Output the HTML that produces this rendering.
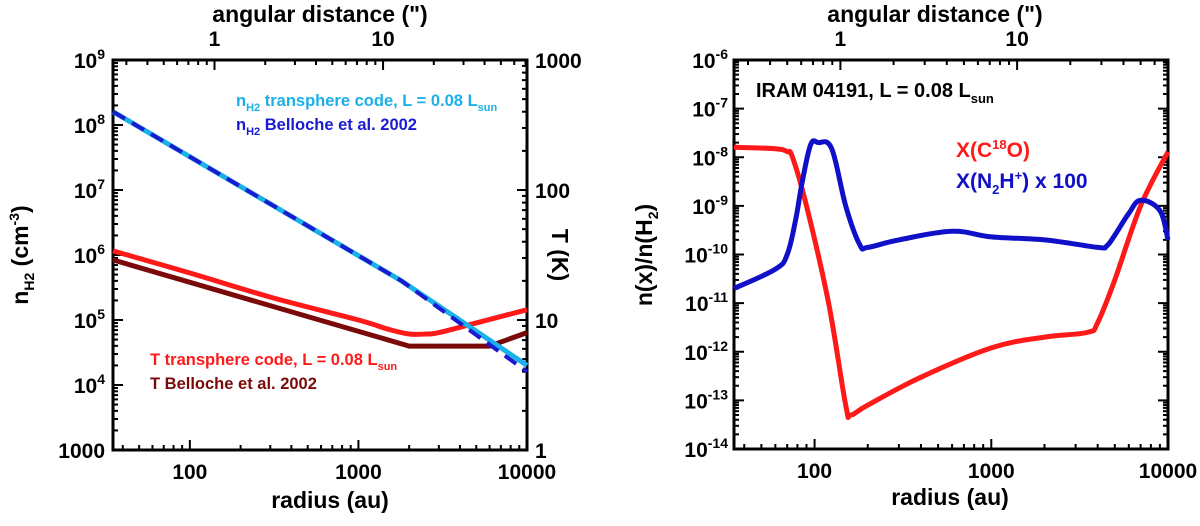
<!DOCTYPE html>
<html><head><meta charset="utf-8"><style>
body{margin:0;background:#fff;}
svg text{font-family:"Liberation Sans",sans-serif;font-weight:bold;}
</style></head><body>
<svg id="c" width="1200" height="521" viewBox="0 0 1200 521" xmlns="http://www.w3.org/2000/svg"></svg>
<script>
const radiusL=[35,1800,10000];
const nH2Trans=[1.6e8,4e5,2e4];
const radiusB=[35,1800,10000];
const nH2Bel=[1.6e8,4e5,1.6e4];
const radiusT=[35,100,300,1000,1500,2000,2500,3000,5000,10000];
const tempTrans=[34,23,15,10,8.5,7.8,7.8,8,9.5,12];
const radiusTB=[35,2000,6000,10000];
const tempBel=[29,6.3,6.3,8];
const radiusC=[35,60,70,75,90,120,150,160,200,400,1000,2000,3500,4000,5000,7000,10000];
const xC18O=[1.6e-8,1.5e-8,1.3e-8,1e-8,1e-9,1e-11,8e-14,5e-14,8e-14,3e-13,1.2e-12,2e-12,2.5e-12,4e-12,3e-11,1e-9,1.3e-8];
const radiusN=[35,60,70,78,85,95,105,125,150,180,200,300,600,1000,2000,4000,4500,5000,6000,7000,9000,10000];
const xN2H=[2e-11,5e-11,1e-10,5e-10,3e-9,1.8e-8,2e-8,1.5e-8,1e-9,1.6e-10,1.4e-10,2e-10,3e-10,2.3e-10,2e-10,1.4e-10,1.5e-10,2.5e-10,7e-10,1.3e-9,8e-10,2e-10];

const S=document.getElementById('c');const NS='http://www.w3.org/2000/svg';
function mk(t,a,txt){const e=document.createElementNS(NS,t);for(const k in a)e.setAttribute(k,a[k]);if(txt!==undefined)e.textContent=txt;S.appendChild(e);return e;}
function logAxis(lo,hi,p0,p1){return v=>p0+(Math.log10(v)-Math.log10(lo))/(Math.log10(hi)-Math.log10(lo))*(p1-p0);}
function line(xs,ys,fx,fy,col,w,dash,name,smooth){const P=xs.map((x,i)=>[fx(x),fy(ys[i])]);let d='M'+P[0][0].toFixed(1)+','+P[0][1].toFixed(1);
 for(let i=0;i<P.length-1;i++){if(!smooth){d+='L'+P[i+1][0].toFixed(1)+','+P[i+1][1].toFixed(1);continue;}
  const p0=P[Math.max(i-1,0)],p1=P[i],p2=P[i+1],p3=P[Math.min(i+2,P.length-1)];const k=0.18;
  const c1=[p1[0]+(p2[0]-p0[0])*k,p1[1]+(p2[1]-p0[1])*k],c2=[p2[0]-(p3[0]-p1[0])*k,p2[1]-(p3[1]-p1[1])*k];
  d+='C'+c1[0].toFixed(1)+','+c1[1].toFixed(1)+' '+c2[0].toFixed(1)+','+c2[1].toFixed(1)+' '+p2[0].toFixed(1)+','+p2[1].toFixed(1);}
 const e=mk('path',{d:d,fill:'none',stroke:col,'stroke-width':w,'stroke-linejoin':'round','stroke-dasharray':dash||'none'});
 
 }
function supText(x,y,base,sup,anchor,name,size){const t=mk('text',{x:x,y:y,'font-size':size||21,'text-anchor':anchor||'end'});
const a=document.createElementNS(NS,'tspan');a.textContent=base;t.appendChild(a);
if(sup!==null){const b=document.createElementNS(NS,'tspan');b.setAttribute('dy','-9');b.setAttribute('font-size','14');b.textContent=sup;t.appendChild(b);}return t;}
function frame(x0,x1,y0,y1,fx,name){
 for(let d=10;d<=10000;d*=10)for(let m=1;m<10;m++){const v=d*m;if(v<35||v>10000)continue;const X=fx(v);const L=m===1?10:5;
  mk('line',{x1:X,y1:y1,x2:X,y2:y1-L,stroke:'#000','stroke-width':2});}
 for(let d=0.1;d<=100;d*=10)for(let m=1;m<10;m++){const v=d*m*140;if(v<35||v>10000)continue;const X=fx(v);const L=m===1?10:5;
  mk('line',{x1:X,y1:y0,x2:X,y2:y0+L,stroke:'#000','stroke-width':2});}
 const r=mk('rect',{x:x0,y:y0,width:x1-x0,height:y1-y0,fill:'none',stroke:'#000','stroke-width':3});
 
}
// LEFT PANEL
const lx0=113,lx1=527,ly0=60,ly1=450;
const fxL=logAxis(35,10000,lx0,lx1);const fyL=logAxis(1e9,1e3,ly0,ly1);const fyT=logAxis(1000,1,ly0,ly1);
frame(lx0,lx1,ly0,ly1,fxL,'left-plot-frame');
for(let e=3;e<=9;e++)for(let m=1;m<10;m++){const v=Math.pow(10,e)*m;if(v>1e9)continue;const Y=fyL(v);const L=m===1?10:5;
 mk('line',{x1:lx0,y1:Y,x2:lx0+L,y2:Y,stroke:'#000','stroke-width':2});}
for(let e=0;e<=3;e++)for(let m=1;m<10;m++){const v=Math.pow(10,e)*m;if(v>1000)continue;const Y=fyT(v);const L=m===1?10:5;
 mk('line',{x1:lx1,y1:Y,x2:lx1-L,y2:Y,stroke:'#000','stroke-width':2});}
const yTicksL=['4','5','6','7','8','9'];
yTicksL.forEach(s=>supText(lx0-8,fyL(Math.pow(10,+s))+8,'10',s,'end','y-tick-left-1e'+s));
mk('text',{x:lx0-8,y:ly1+8,'font-size':21,'text-anchor':'end',},'1000');
const tTicks=[1,10,100,1000];
tTicks.forEach(v=>mk('text',{x:lx1+8,y:fyT(v)+8,'font-size':21,},String(v)));
const xTicks=[100,1000,10000];
xTicks.forEach(v=>mk('text',{x:fxL(v),y:ly1+29,'font-size':21,'text-anchor':'middle',},String(v)));
const aTicks=[1,10];
aTicks.forEach(v=>mk('text',{x:fxL(v*140),y:ly0-14,'font-size':21,'text-anchor':'middle',},String(v)));
mk('text',{x:320,y:22,'font-size':23,'text-anchor':'middle',},'angular distance (")');
mk('text',{x:330,y:508,'font-size':23,'text-anchor':'middle',},'radius (au)');
{const t=mk('text',{transform:'translate(28,255) rotate(-90)','font-size':23,'text-anchor':'middle',});
 t.innerHTML='n<tspan dy="6" font-size="14">H2</tspan><tspan dy="-6"> (cm</tspan><tspan dy="-9" font-size="14">-3</tspan><tspan dy="9">)</tspan>';}
mk('text',{transform:'translate(552,255) rotate(90)','font-size':23,'text-anchor':'middle',},'T (K)');
line(radiusT,tempTrans,fxL,fyT,'#ff1a1a',5,null,'temp-transphere-line',true);
line(radiusTB,tempBel,fxL,fyT,'#7a0a0a',5,null,'temp-belloche-line',false);
line(radiusL,nH2Trans,fxL,fyL,'#1ab0e8',5,null,'nh2-transphere-line',false);
line(radiusB,nH2Bel,fxL,fyL,'#1a1ad0',4,'14,8','nh2-belloche-line',false);
{const t=mk('text',{x:236,y:106,'font-size':16.5,fill:'#1ab0e8',});t.innerHTML='n<tspan dy="5" font-size="11">H2</tspan><tspan dy="-5"> transphere code, L = 0.08 L</tspan><tspan dy="5" font-size="11">sun</tspan>';}
{const t=mk('text',{x:236,y:130,'font-size':16.5,fill:'#1a1ad0',});t.innerHTML='n<tspan dy="5" font-size="11">H2</tspan><tspan dy="-5"> Belloche et al. 2002</tspan>';}
{const t=mk('text',{x:150,y:365,'font-size':16.5,fill:'#ff1a1a',});t.innerHTML='T transphere code, L = 0.08 L<tspan dy="5" font-size="11">sun</tspan>';}
mk('text',{x:150,y:389,'font-size':16.5,fill:'#7a0a0a',},'T Belloche et al. 2002');

// RIGHT PANEL
const rx0=734,rx1=1168,ry0=60,ry1=449;
const fxR=logAxis(35,10000,rx0,rx1);const fyR=logAxis(1e-6,1e-14,ry0,ry1);
frame(rx0,rx1,ry0,ry1,fxR,'right-plot-frame');
for(let e=-14;e<=-6;e++){const Y=fyR(Math.pow(10,e));
 mk('line',{x1:rx0,y1:Y,x2:rx0+10,y2:Y,stroke:'#000','stroke-width':2});mk('line',{x1:rx1,y1:Y,x2:rx1-10,y2:Y,stroke:'#000','stroke-width':2});
 for(let m=2;m<10;m++){if(e===-6)break;const y2=fyR(Math.pow(10,e)*m);
 mk('line',{x1:rx0,y1:y2,x2:rx0+5,y2:y2,stroke:'#000','stroke-width':2});mk('line',{x1:rx1,y1:y2,x2:rx1-5,y2:y2,stroke:'#000','stroke-width':2});}}
const yTicksR=['-14','-13','-12','-11','-10','-9','-8','-7','-6'];
yTicksR.forEach(s=>supText(rx0-6,fyR(Math.pow(10,+s))+8,'10',s,'end','y-tick-right-1e'+s));
xTicks.forEach(v=>mk('text',{x:fxR(v),y:ry1+29,'font-size':21,'text-anchor':'middle',},String(v)));
aTicks.forEach(v=>mk('text',{x:fxR(v*140),y:ry0-14,'font-size':21,'text-anchor':'middle',},String(v)));
mk('text',{x:935,y:22,'font-size':23,'text-anchor':'middle',},'angular distance (")');
mk('text',{x:950,y:505,'font-size':23,'text-anchor':'middle',},'radius (au)');
{const t=mk('text',{transform:'translate(652,255) rotate(-90)','font-size':23,'text-anchor':'middle',});
 t.innerHTML='n(x)/n(H<tspan dy="6" font-size="14">2</tspan><tspan dy="-6">)</tspan>';}
line(radiusC,xC18O,fxR,fyR,'#ff1a1a',5,null,'c18o-line',true);
line(radiusN,xN2H,fxR,fyR,'#1010c8',5,null,'n2h-line',true);
{const t=mk('text',{x:756,y:97,'font-size':20,fill:'#000',});t.innerHTML='IRAM 04191, L = 0.08 L<tspan dy="6" font-size="13">sun</tspan>';}
{const t=mk('text',{x:956,y:157,'font-size':21,fill:'#ff1a1a',});t.innerHTML='X(C<tspan dy="-8" font-size="13">18</tspan><tspan dy="8">O)</tspan>';}
{const t=mk('text',{x:956,y:188,'font-size':21,fill:'#1010c8',});t.innerHTML='X(N<tspan dy="6" font-size="13">2</tspan><tspan dy="-6">H</tspan><tspan dy="-8" font-size="13">+</tspan><tspan dy="8">) x 100</tspan>';}
</script>
</body></html>
